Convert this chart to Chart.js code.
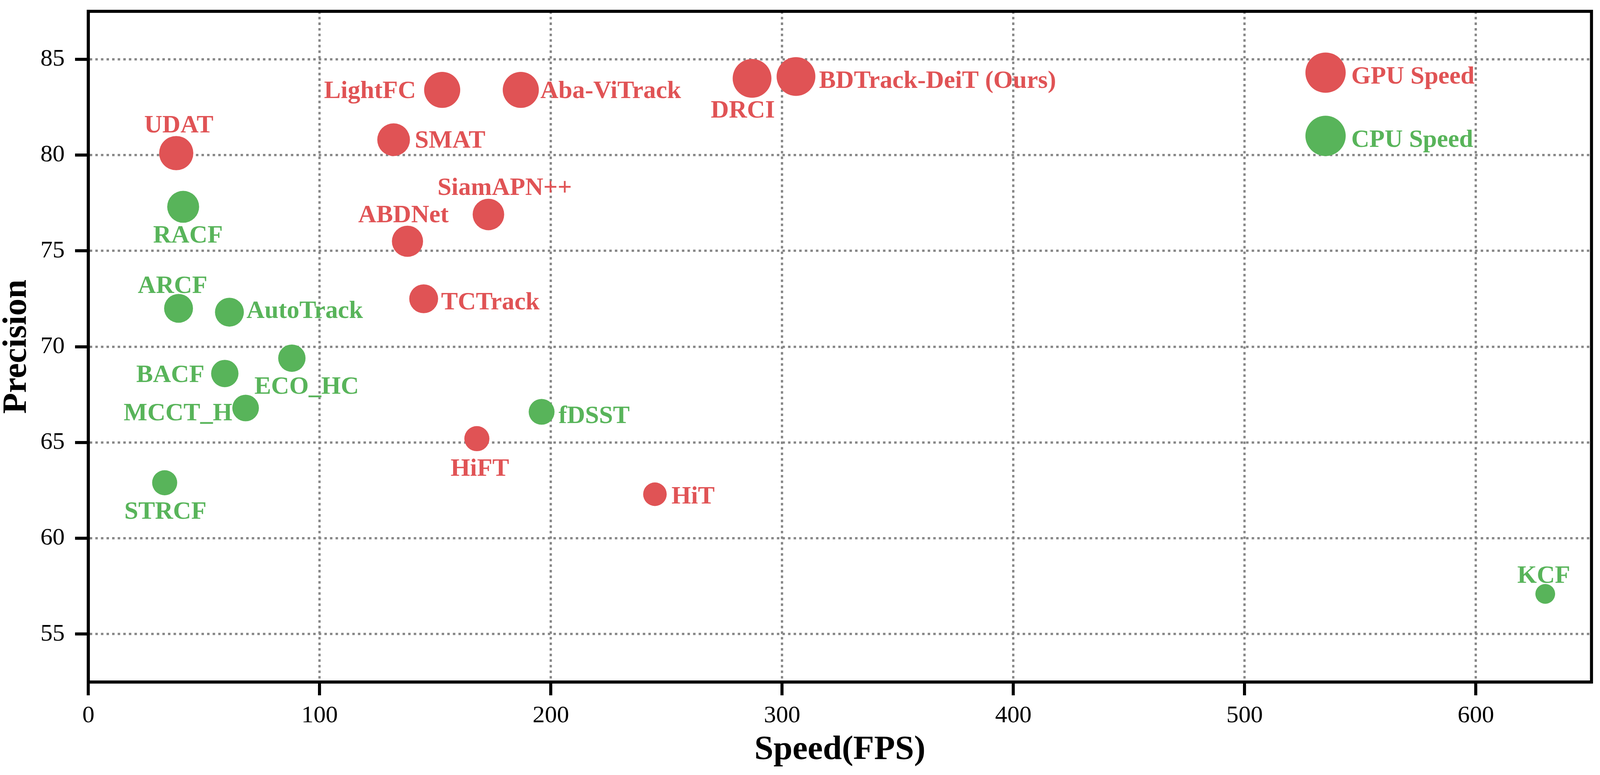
<!DOCTYPE html>
<html>
<head>
<meta charset="utf-8">
<script src="https://cdn.jsdelivr.net/npm/chart.js@4.4.1/dist/chart.umd.min.js"></script>
<style>
  html, body { margin: 0; padding: 0; background: #ffffff; overflow: hidden; }
  #wrap { position: relative; }
  canvas { display: block; }
</style>
</head>
<body>
<div id="wrap"><canvas id="c"></canvas></div>
<script>
// ---------------- data ----------------
// GPU-speed trackers (red)
const gpuNames = ['UDAT', 'LightFC', 'Aba-ViTrack', 'DRCI', 'BDTrack-DeiT (Ours)', 'SMAT', 'SiamAPN++', 'ABDNet', 'TCTrack', 'HiFT', 'HiT', 'GPU Speed'];
const gpuSpeed = [38, 153, 187, 287, 306, 132, 173, 138, 145, 168, 245, 535];
const gpuPrecision = [80.1, 83.4, 83.4, 84.0, 84.1, 80.8, 76.9, 75.5, 72.5, 65.2, 62.3, 84.3];

// CPU-speed trackers (green)
const cpuNames = ['RACF', 'ARCF', 'AutoTrack', 'BACF', 'ECO_HC', 'MCCT_H', 'STRCF', 'fDSST', 'KCF', 'CPU Speed'];
const cpuSpeed = [41, 39, 61, 59, 88, 68, 33, 196, 630, 535];
const cpuPrecision = [77.3, 72.0, 71.8, 68.6, 69.4, 66.8, 62.9, 66.6, 57.1, 81.0];

// axis ticks
const xTicks = [0, 100, 200, 300, 400, 500, 600];
const yTicks = [55, 60, 65, 70, 75, 80, 85];

// ---------------- styles (kept apart from the data) ----------------
const gpuRadius = [45, 47.5, 47.5, 51, 51, 43, 41.5, 41, 38, 33, 31, 53];
const cpuRadius = [42, 38, 38, 36, 36, 35, 33, 34, 26, 53];
const gpuLabelSide = ['top', 'left', 'right', 'bottom', 'right', 'right', 'top', 'top', 'right', 'bottom', 'right', 'right'];
const cpuLabelSide = ['bottom', 'top', 'right', 'left', 'bottom', 'left', 'bottom', 'right', 'top', 'right'];
const gpuLabelNudge = [[7,0],[-7,-1],[-6,-1],[-25,-5],[0,7],[3,-2],[44,-1],[-11,0],[-2,5],[8,7],[3,2],[5,6]];
const cpuLabelNudge = [[13,-5],[-16,7],[-3,-7],[-3,0],[40,0],[15,10],[2,4],[1,7],[-4,6],[5,6]];

const RED = '#E05355';
const GREEN = '#58B45A';
const GRID = '#878787';
const SERIF = '"Liberation Serif", "Times New Roman", Times, serif';

// the design is laid out for 4328 x 1984; scale it to the actual window
const W = window.innerWidth || 4328;
const H = window.innerHeight || 1984;
const kx = W / 4328, ky = H / 1984, k = Math.sqrt(kx * ky);
const wrap = document.getElementById('wrap');
wrap.style.width = W + 'px';
wrap.style.height = H + 'px';

function toPoints(xs, ys, rs) {
  return xs.map((x, i) => ({ x: x, y: ys[i], r: rs[i] * k }));
}

const labelPlugin = {
  id: 'pointLabels',
  afterDatasetsDraw(chart) {
    const ctx = chart.ctx;
    ctx.save();
    ctx.font = 'bold ' + (66 * k) + 'px ' + SERIF;
    chart.data.datasets.forEach((ds, di) => {
      const meta = chart.getDatasetMeta(di);
      meta.data.forEach((el, i) => {
        const r = ds.data[i].r;
        const side = ds.labelSide[i];
        const nudge = ds.labelNudge[i];
        let x = el.x, y = el.y;
        ctx.fillStyle = ds.backgroundColor;
        ctx.textBaseline = 'alphabetic';
        if (side === 'top') {
          ctx.textAlign = 'center';
          y = el.y - r - 9 * ky;
        } else if (side === 'bottom') {
          ctx.textAlign = 'center';
          y = el.y + r + 56 * ky;
        } else if (side === 'right') {
          ctx.textAlign = 'left';
          x = el.x + r + 10 * kx;
          y = el.y + 22 * ky;
        } else {
          ctx.textAlign = 'right';
          x = el.x - r - 15 * kx;
          y = el.y + 22 * ky;
        }
        ctx.fillText(ds.labels[i], x + nudge[0] * kx, y + nudge[1] * ky);
      });
    });
    ctx.restore();
  }
};

const framePlugin = {
  id: 'frame',
  afterDraw(chart) {
    const a = chart.chartArea;
    const ctx = chart.ctx;
    ctx.save();
    ctx.strokeStyle = '#000';
    ctx.lineWidth = 8 * k;
    ctx.setLineDash([]);
    ctx.strokeRect(a.left, a.top, a.right - a.left, a.bottom - a.top);
    ctx.restore();
  }
};

function gridOpts() {
  return {
    color: GRID,
    lineWidth: 6 * k,
    drawTicks: true,
    tickLength: 35 * k,
    tickWidth: 8 * k,
    tickColor: '#000',
    tickBorderDash: []
  };
}

function noScalePadding(s) {
  s.paddingLeft = 0; s.paddingRight = 0; s.paddingTop = 0; s.paddingBottom = 0;
}

new Chart(document.getElementById('c'), {
  type: 'bubble',
  data: {
    datasets: [
      {
        label: 'GPU Speed',
        data: toPoints(gpuSpeed, gpuPrecision, gpuRadius),
        labels: gpuNames,
        labelSide: gpuLabelSide,
        labelNudge: gpuLabelNudge,
        backgroundColor: RED,
        borderWidth: 0,
        hoverBorderWidth: 0
      },
      {
        label: 'CPU Speed',
        data: toPoints(cpuSpeed, cpuPrecision, cpuRadius),
        labels: cpuNames,
        labelSide: cpuLabelSide,
        labelNudge: cpuLabelNudge,
        backgroundColor: GREEN,
        borderWidth: 0,
        hoverBorderWidth: 0
      }
    ]
  },
  options: {
    responsive: true,
    maintainAspectRatio: false,
    animation: false,
    events: [],
    layout: { autoPadding: false, padding: { left: 0, top: 29 * ky, right: 23 * kx, bottom: 0 } },
    plugins: {
      legend: { display: false },
      tooltip: { enabled: false }
    },
    scales: {
      x: {
        type: 'linear',
        position: 'bottom',
        min: 0,
        max: 650,
        afterBuildTicks: (s) => { s.ticks = xTicks.map(v => ({ value: v })); },
        afterFit: (s) => { s.height = 238 * ky; noScalePadding(s); },
        ticks: {
          color: '#000',
          font: { family: SERIF, size: 64 * k },
          padding: 15 * ky,
          maxRotation: 0,
          autoSkip: false,
          callback: (v) => String(v)
        },
        grid: gridOpts(),
        border: { display: true, color: '#000', width: 8 * k, dash: [6.5 * k, 8.2 * k] },
        title: {
          display: true,
          text: 'Speed(FPS)',
          color: '#000',
          font: { family: SERIF, size: 90 * k, weight: 'bold', lineHeight: 1 },
          padding: { top: 0, bottom: 20 * ky }
        }
      },
      y: {
        type: 'linear',
        position: 'left',
        min: 52.5,
        max: 87.5,
        afterBuildTicks: (s) => { s.ticks = yTicks.map(v => ({ value: v })); },
        afterFit: (s) => { s.width = 239 * kx; noScalePadding(s); },
        ticks: {
          color: '#000',
          font: { family: SERIF, size: 64 * k },
          padding: 28 * kx,
          autoSkip: false,
          callback: (v) => String(v)
        },
        grid: gridOpts(),
        border: { display: true, color: '#000', width: 8 * k, dash: [6.5 * k, 8.2 * k] },
        title: {
          display: true,
          text: 'Precision',
          color: '#000',
          font: { family: SERIF, size: 90 * k, weight: 'bold', lineHeight: 1 },
          padding: { top: 0, bottom: 0 }
        }
      }
    }
  },
  plugins: [labelPlugin, framePlugin]
});
</script>
</body>
</html>
